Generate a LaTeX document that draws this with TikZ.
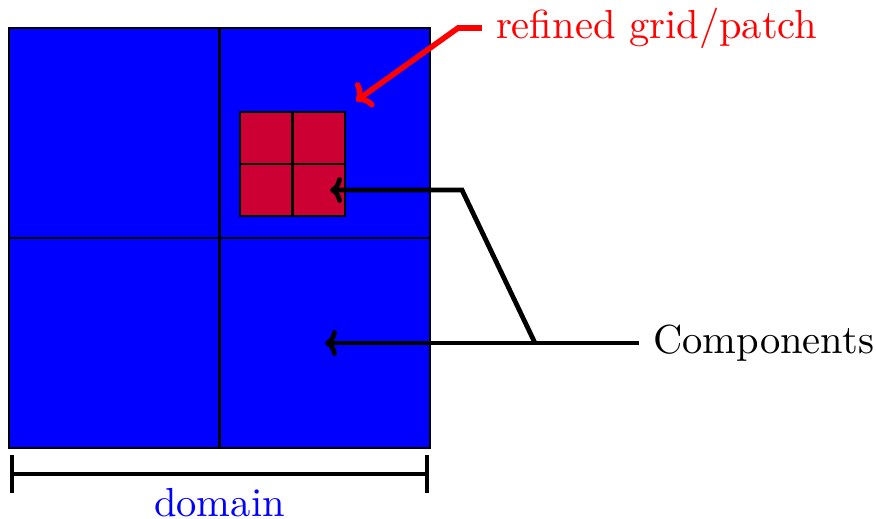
\documentclass[tikz,border=0pt]{standalone}
\usepackage{xcolor}
\usetikzlibrary{arrows.meta, positioning}

\begin{document}
\begin{tikzpicture}[
  x=0.2515pt, y=-0.2515pt,
  every node/.style={font=\fontsize{10.2}{12}\selectfont},
  domainbox/.style={draw=black, line width=0.4pt, fill=blue},
  patchbox/.style={draw=black, line width=0.6pt, fill=red!80!blue},
  gridline/.style={draw=black, line width=0.6pt},
  pointer/.style={-{To[length=3pt, width=6.5pt]}, line width=1.2pt},
  redpointer/.style={-{To[length=3.4pt, width=7.5pt]}, line width=1.4pt, red},
  extent/.style={{Bar[width=9.5pt]}-{Bar[width=9.5pt]}, line width=1.1pt},
]
\useasboundingbox (0,0) rectangle (876,519);

% coarse grid
\draw[domainbox] (9,28) rectangle (430,448);
\draw[gridline] (219.5,28) -- (219.5,448);
\draw[gridline] (9,238) -- (430,238);

% refined patch
\draw[patchbox] (240,112) rectangle (345,216);
\draw[gridline] (292.5,112) -- (292.5,216);
\draw[gridline] (240,164) -- (345,164);

\coordinate (patchtip) at (330,190);
\coordinate (cellTip)  at (325,343);
\coordinate (junc)     at (535,343);
\coordinate (redtip)   at (356,101);

\node[anchor=west, text=red, inner sep=3.33pt] (refined) at (482,28) {refined grid/patch};
\node[anchor=west] (comp) at (639,343) {Components};

\draw[redpointer] (refined.west) -- ++(-24,0) -- (redtip);
\draw[pointer] (comp.west) -- (cellTip);
\draw[pointer] (junc) -- (462,190) -- (patchtip);

% extent of the domain
\coordinate (barL) at (10,474);
\coordinate (barR) at (429,474);
\draw[extent] (barL) -- (barR);
\node[below, text=blue, inner sep=3.33pt] (dom) at (219.5,474) {domain};
\end{tikzpicture}
\end{document}
